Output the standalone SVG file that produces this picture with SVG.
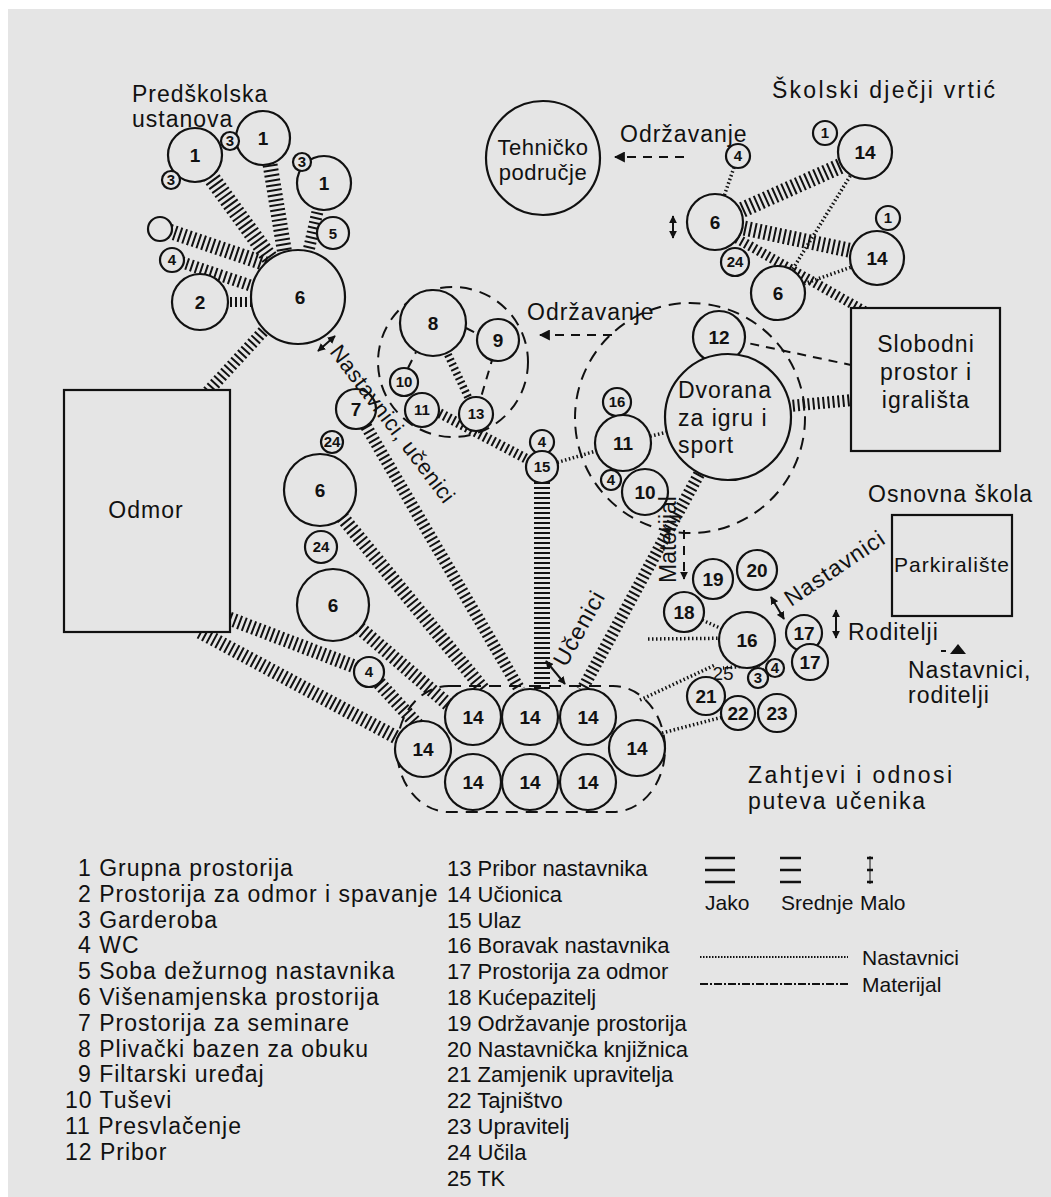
<svg xmlns="http://www.w3.org/2000/svg" width="1051" height="1197" viewBox="0 0 1051 1197">
<style>
.bg{fill:#e5e5e5}
.c{fill:#e5e5e5;stroke:#111;stroke-width:2.2}
.box{fill:#e5e5e5;stroke:#111;stroke-width:2.2}
text{font-family:"Liberation Sans",Arial,Helvetica,sans-serif;fill:#111}
.n{font-size:19px;font-weight:bold;text-anchor:middle}
.s{font-size:15px;font-weight:bold;text-anchor:middle}
.l{font-size:23px;letter-spacing:1px}
.r{font-size:22px}
.lc{font-size:22px;letter-spacing:0.5px;text-anchor:middle}
.h{fill:none;stroke:#111;stroke-dasharray:2 3}
.d{fill:none;stroke:#111;stroke-width:3.5;stroke-dasharray:1.5 2.5}
.m{fill:none;stroke:#111;stroke-width:2;stroke-dasharray:9 7}
.dc{fill:none;stroke:#111;stroke-width:2;stroke-dasharray:12 8}
.ar{fill:none;stroke:#111;stroke-width:2}
.lg{stroke:#111;stroke-width:2.5}
</style>
<defs>
<marker id="ah" viewBox="0 0 10 10" refX="9" refY="5" markerWidth="11" markerHeight="11" markerUnits="userSpaceOnUse" orient="auto-start-reverse"><path d="M0,0 L10,5 L0,10 z" fill="#111"/></marker>
<marker id="as" viewBox="0 0 10 10" refX="9" refY="5" markerWidth="8" markerHeight="8" markerUnits="userSpaceOnUse" orient="auto-start-reverse"><path d="M0,0 L10,5 L0,10 z" fill="#111"/></marker>
</defs>
<rect width="1051" height="1197" fill="#fff"/>
<rect class="bg" x="8" y="9" width="1043" height="1188"/>

<g id="connectors">
<!-- Predskolska -->
<line class="h" x1="195" y1="155" x2="298" y2="297" stroke-width="17"/>
<line class="h" x1="266" y1="140" x2="292" y2="297" stroke-width="15"/>
<line class="h" x1="324" y1="183" x2="298" y2="297" stroke-width="12"/>
<line class="h" x1="160" y1="228" x2="266" y2="264" stroke-width="15"/>
<line class="h" x1="172" y1="259" x2="258" y2="288" stroke-width="12"/>
<line class="h" x1="200" y1="302" x2="298" y2="302" stroke-width="10"/>
<line class="h" x1="270" y1="324" x2="200" y2="400" stroke-width="12"/>
<!-- left column to classrooms -->
<line class="h" x1="220" y1="615" x2="369" y2="672" stroke-width="14"/>
<line class="h" x1="369" y1="672" x2="425" y2="733" stroke-width="14"/>
<line class="h" x1="200" y1="632" x2="405" y2="742" stroke-width="14"/>
<line class="h" x1="333" y1="605" x2="450" y2="706" stroke-width="14"/>
<line class="h" x1="320" y1="490" x2="484" y2="690" stroke-width="14"/>
<line class="h" x1="356" y1="409" x2="520" y2="690" stroke-width="12"/>
<line class="h" x1="542" y1="467" x2="542" y2="690" stroke-width="16"/>
<line class="h" x1="730" y1="417" x2="582" y2="690" stroke-width="12"/>
<!-- pool -->
<line class="h" x1="422" y1="404" x2="542" y2="467" stroke-width="10"/>
<line class="h" x1="433" y1="323" x2="476" y2="414" stroke-width="8"/>
<line class="m" x1="466" y1="328" x2="478" y2="334"/>
<line class="m" x1="498" y1="340" x2="476" y2="414"/>
<line class="m" x1="408" y1="368" x2="416" y2="352"/>
<!-- dvorana -->
<line class="d" x1="542" y1="467" x2="623" y2="443"/>
<line class="d" x1="623" y1="443" x2="728" y2="417"/>
<line class="h" x1="728" y1="412" x2="852" y2="400" stroke-width="12"/>
<line class="m" x1="719" y1="337" x2="851" y2="365"/>
<!-- skolski djecji vrtic -->
<line class="h" x1="715" y1="222" x2="865" y2="155" stroke-width="16"/>
<line class="h" x1="715" y1="222" x2="877" y2="256" stroke-width="15"/>
<line class="h" x1="715" y1="226" x2="866" y2="312" stroke-width="10"/>
<line class="d" x1="738" y1="156" x2="715" y2="222"/>
<line class="d" x1="865" y1="152" x2="778" y2="293"/>
<line class="d" x1="877" y1="258" x2="778" y2="293"/>
<!-- teachers paths right -->
<line class="d" x1="640" y1="700" x2="715" y2="665"/>
<line class="d" x1="662" y1="733" x2="738" y2="713"/>
<line class="d" x1="648" y1="639" x2="747" y2="638"/>
<line class="d" x1="684" y1="612" x2="747" y2="640"/>
<line class="d" x1="760" y1="665" x2="723" y2="668"/>
<!-- maintenance arrows -->
<line class="m" x1="684" y1="157" x2="615" y2="157" marker-end="url(#ah)"/>
<path class="m" d="M612,335 L540,335" marker-end="url(#ah)"/>
<line class="m" x1="684" y1="530" x2="684" y2="579" marker-end="url(#as)"/>
<!-- double arrows -->
<line class="ar" x1="318" y1="351" x2="335" y2="336" marker-start="url(#as)" marker-end="url(#as)"/>
<line class="ar" x1="673" y1="216" x2="673" y2="238" marker-start="url(#as)" marker-end="url(#as)"/>
<line class="ar" x1="546" y1="661" x2="565" y2="684" marker-start="url(#as)" marker-end="url(#as)"/>
<line class="ar" x1="771" y1="597" x2="784" y2="619" marker-start="url(#as)" marker-end="url(#as)"/>
<line class="ar" x1="836" y1="610" x2="836" y2="638" marker-start="url(#as)" marker-end="url(#as)"/>
<path d="M950,654 L958,644 L966,654 Z" fill="#111"/>
<line class="ar" x1="941" y1="651" x2="946" y2="651"/>
</g>

<!-- cluster outlines -->
<g id="pool-area"><circle class="dc" cx="453" cy="362" r="75"/></g>
<g id="hall-area"><circle class="dc" cx="690" cy="418" r="115"/></g>
<g id="classroom-area"><rect class="dc" x="397" y="686" width="268" height="126" rx="52" ry="63"/></g>

<!-- Predskolska ustanova -->
<g id="lbl-pre"><text class="l" x="132" y="102">Predškolska</text><text class="l" x="132" y="127">ustanova</text></g>
<g id="n-p1a"><circle class="c" cx="195" cy="155" r="27"/><text class="n" x="195" y="162">1</text></g>
<g id="n-p1b"><circle class="c" cx="263" cy="138" r="27"/><text class="n" x="263" y="145">1</text></g>
<g id="n-p1c"><circle class="c" cx="324" cy="183" r="27"/><text class="n" x="324" y="190">1</text></g>
<g id="n-p3a"><circle class="c" cx="230" cy="141" r="9"/><text class="s" x="230" y="146">3</text></g>
<g id="n-p3b"><circle class="c" cx="171" cy="180" r="9"/><text class="s" x="171" y="185">3</text></g>
<g id="n-p3c"><circle class="c" cx="302" cy="162" r="9"/><text class="s" x="302" y="167">3</text></g>
<g id="n-p5"><circle class="c" cx="333" cy="233" r="16"/><text class="s" x="333" y="239">5</text></g>
<g id="n-popen"><circle class="c" cx="160" cy="229" r="12"/></g>
<g id="n-p4"><circle class="c" cx="172" cy="260" r="12"/><text class="s" x="172" y="265">4</text></g>
<g id="n-p2"><circle class="c" cx="200" cy="302" r="28"/><text class="n" x="200" y="309">2</text></g>
<g id="n-p6"><circle class="c" cx="298" cy="297" r="47"/><text class="n" x="300" y="304">6</text></g>

<!-- Odmor -->
<g id="n-odmor"><rect class="box" x="64" y="390" width="166" height="242"/><text class="l" x="146" y="518" text-anchor="middle">Odmor</text></g>

<!-- Tehnicko -->
<g id="n-teh"><circle class="c" cx="543" cy="158" r="57"/><text class="lc" x="543" y="155">Tehničko</text><text class="lc" x="543" y="180">područje</text></g>
<g id="lbl-odr1"><text class="l" x="620" y="142">Održavanje</text></g>
<g id="lbl-odr2"><text class="l" x="527" y="320">Održavanje</text></g>

<!-- Skolski djecji vrtic -->
<g id="lbl-sdv"><text class="l" x="772" y="98" textLength="224" lengthAdjust="spacing">Školski dječji vrtić</text></g>
<g id="n-s1a"><circle class="c" cx="825" cy="133" r="12"/><text class="s" x="825" y="138">1</text></g>
<g id="n-s14a"><circle class="c" cx="865" cy="152" r="27"/><text class="n" x="865" y="159">14</text></g>
<g id="n-s4"><circle class="c" cx="738" cy="156" r="12"/><text class="s" x="738" y="161">4</text></g>
<g id="n-s6a"><circle class="c" cx="715" cy="222" r="28"/><text class="n" x="715" y="229">6</text></g>
<g id="n-s1b"><circle class="c" cx="888" cy="218" r="12"/><text class="s" x="888" y="223">1</text></g>
<g id="n-s14b"><circle class="c" cx="877" cy="258" r="27"/><text class="n" x="877" y="265">14</text></g>
<g id="n-s24"><circle class="c" cx="735" cy="262" r="14"/><text class="s" x="735" y="267">24</text></g>
<g id="n-s6b"><circle class="c" cx="778" cy="293" r="27"/><text class="n" x="778" y="300">6</text></g>

<!-- Slobodni prostor -->
<g id="n-slob"><rect class="box" x="851" y="308" width="149" height="143"/><text class="l" x="926" y="352" text-anchor="middle">Slobodni</text><text class="l" x="926" y="380" text-anchor="middle">prostor i</text><text class="l" x="926" y="408" text-anchor="middle">igrališta</text></g>

<!-- pool cluster -->
<g id="n-8"><circle class="c" cx="433" cy="323" r="33"/><text class="n" x="433" y="330">8</text></g>
<g id="n-9"><circle class="c" cx="498" cy="340" r="21"/><text class="n" x="498" y="347">9</text></g>
<g id="n-10a"><circle class="c" cx="404" cy="382" r="14"/><text class="s" x="404" y="387">10</text></g>
<g id="n-11a"><circle class="c" cx="422" cy="410" r="17"/><text class="s" x="422" y="415">11</text></g>
<g id="n-13"><circle class="c" cx="476" cy="414" r="17"/><text class="s" x="476" y="419">13</text></g>

<!-- entrance -->
<g id="n-e4"><circle class="c" cx="542" cy="442" r="12"/><text class="s" x="542" y="447">4</text></g>
<g id="n-15"><circle class="c" cx="542" cy="467" r="16"/><text class="s" x="542" y="472">15</text></g>

<!-- hall cluster -->
<g id="n-12"><circle class="c" cx="719" cy="337" r="26"/><text class="n" x="719" y="344">12</text></g>
<g id="n-dvo"><circle class="c" cx="728" cy="417" r="63"/><text class="l" x="678" y="398">Dvorana</text><text class="l" x="678" y="426">za igru i</text><text class="l" x="678" y="453">sport</text></g>
<g id="n-d16"><circle class="c" cx="617" cy="402" r="14"/><text class="s" x="617" y="407">16</text></g>
<g id="n-d11"><circle class="c" cx="623" cy="443" r="28"/><text class="n" x="623" y="450">11</text></g>
<g id="n-d4"><circle class="c" cx="611" cy="480" r="10"/><text class="s" x="611" y="485">4</text></g>
<g id="n-d10"><circle class="c" cx="645" cy="492" r="23"/><text class="n" x="645" y="499">10</text></g>

<!-- left column -->
<g id="n-7"><circle class="c" cx="356" cy="409" r="20"/><text class="n" x="356" y="416">7</text></g>
<g id="n-l24a"><circle class="c" cx="332" cy="442" r="11"/><text class="s" x="332" y="447">24</text></g>
<g id="n-l6a"><circle class="c" cx="320" cy="490" r="36"/><text class="n" x="320" y="497">6</text></g>
<g id="n-l24b"><circle class="c" cx="321" cy="547" r="16"/><text class="s" x="321" y="552">24</text></g>
<g id="n-l6b"><circle class="c" cx="333" cy="605" r="36"/><text class="n" x="333" y="612">6</text></g>
<g id="n-l4"><circle class="c" cx="369" cy="672" r="15"/><text class="s" x="369" y="677">4</text></g>

<!-- classrooms -->
<g id="n-c1"><circle class="c" cx="473" cy="717" r="28"/><text class="n" x="473" y="724">14</text></g>
<g id="n-c2"><circle class="c" cx="530" cy="717" r="28"/><text class="n" x="530" y="724">14</text></g>
<g id="n-c3"><circle class="c" cx="588" cy="717" r="28"/><text class="n" x="588" y="724">14</text></g>
<g id="n-c4"><circle class="c" cx="423" cy="749" r="28"/><text class="n" x="423" y="756">14</text></g>
<g id="n-c5"><circle class="c" cx="637" cy="748" r="28"/><text class="n" x="637" y="755">14</text></g>
<g id="n-c6"><circle class="c" cx="473" cy="782" r="28"/><text class="n" x="473" y="789">14</text></g>
<g id="n-c7"><circle class="c" cx="530" cy="782" r="28"/><text class="n" x="530" y="789">14</text></g>
<g id="n-c8"><circle class="c" cx="588" cy="782" r="28"/><text class="n" x="588" y="789">14</text></g>

<!-- path labels -->
<g id="lbl-nu"><text class="l" style="font-size:22px;letter-spacing:0.5px" transform="translate(329,352) rotate(53)">Nastavnici, učenici</text></g>
<g id="lbl-uc"><text class="l" transform="translate(566,668) rotate(-61)">Učenici</text></g>
<g id="lbl-mat"><text class="r" style="font-size:23px" transform="translate(676,583) rotate(-90)">Materijal</text></g>

<!-- Osnovna skola -->
<g id="lbl-os"><text class="l" x="868" y="502">Osnovna škola</text></g>
<g id="n-park"><rect class="box" x="892" y="515" width="120" height="101"/><text class="l" style="font-size:21px" x="952" y="572" text-anchor="middle">Parkiralište</text></g>
<g id="lbl-nas"><text class="l" transform="translate(791,607) rotate(-34)">Nastavnici</text></g>
<g id="lbl-rod"><text class="l" x="848" y="640">Roditelji</text></g>
<g id="lbl-nr"><text class="l" x="908" y="678">Nastavnici,</text><text class="l" x="908" y="703">roditelji</text></g>
<g id="n-19"><circle class="c" cx="713" cy="579" r="20"/><text class="n" x="713" y="586">19</text></g>
<g id="n-20"><circle class="c" cx="757" cy="570" r="20"/><text class="n" x="757" y="577">20</text></g>
<g id="n-18"><circle class="c" cx="684" cy="612" r="20"/><text class="n" x="684" y="619">18</text></g>
<g id="n-16"><circle class="c" cx="747" cy="640" r="28"/><text class="n" x="747" y="647">16</text></g>
<g id="n-17a"><circle class="c" cx="804" cy="633" r="18"/><text class="n" x="804" y="640">17</text></g>
<g id="n-17b"><circle class="c" cx="810" cy="662" r="18"/><text class="n" x="810" y="669">17</text></g>
<g id="n-r4"><circle class="c" cx="775" cy="668" r="9"/><text class="s" x="775" y="673">4</text></g>
<g id="n-r3"><circle class="c" cx="758" cy="678" r="10"/><text class="s" x="758" y="683">3</text></g>
<g id="n-25"><text class="n" style="font-weight:normal" x="723" y="680">25</text></g>
<g id="n-21"><circle class="c" cx="706" cy="696" r="19"/><text class="n" x="706" y="703">21</text></g>
<g id="n-22"><circle class="c" cx="738" cy="713" r="17"/><text class="n" x="738" y="720">22</text></g>
<g id="n-23"><circle class="c" cx="777" cy="713" r="19"/><text class="n" x="777" y="720">23</text></g>

<g id="lbl-zahtjevi"><text class="l" x="748" y="783" textLength="205" lengthAdjust="spacing">Zahtjevi i odnosi</text><text class="l" x="748" y="809" textLength="178" lengthAdjust="spacing">puteva učenika</text></g>

<!-- legend -->
<g id="legend-list">
<text class="l" x="78" y="876">1 Grupna prostorija</text>
<text class="l" x="78" y="902">2 Prostorija za odmor i spavanje</text>
<text class="l" x="78" y="928">3 Garderoba</text>
<text class="l" x="78" y="953">4 WC</text>
<text class="l" x="78" y="979">5 Soba dežurnog nastavnika</text>
<text class="l" x="78" y="1005">6 Višenamjenska prostorija</text>
<text class="l" x="78" y="1031">7 Prostorija za seminare</text>
<text class="l" x="78" y="1057">8 Plivački bazen za obuku</text>
<text class="l" x="78" y="1082">9 Filtarski uređaj</text>
<text class="l" x="65" y="1108">10 Tuševi</text>
<text class="l" x="65" y="1134">11 Presvlačenje</text>
<text class="l" x="65" y="1160">12 Pribor</text>
<text class="r" x="447" y="876">13 Pribor nastavnika</text>
<text class="r" x="447" y="902">14 Učionica</text>
<text class="r" x="447" y="928">15 Ulaz</text>
<text class="r" x="447" y="953">16 Boravak nastavnika</text>
<text class="r" x="447" y="979">17 Prostorija za odmor</text>
<text class="r" x="447" y="1005">18 Kućepazitelj</text>
<text class="r" x="447" y="1031">19 Održavanje prostorija</text>
<text class="r" x="447" y="1057">20 Nastavnička knjižnica</text>
<text class="r" x="447" y="1082">21 Zamjenik upravitelja</text>
<text class="r" x="447" y="1108">22 Tajništvo</text>
<text class="r" x="447" y="1134">23 Upravitelj</text>
<text class="r" x="447" y="1160">24 Učila</text>
<text class="r" x="447" y="1186">25 TK</text>
</g>
<g id="legend-key">
<line class="lg" x1="705" y1="858" x2="735" y2="858"/>
<line class="lg" x1="705" y1="870" x2="735" y2="870"/>
<line class="lg" x1="705" y1="882" x2="735" y2="882"/>
<line class="lg" x1="780" y1="858" x2="801" y2="858"/>
<line class="lg" x1="780" y1="870" x2="801" y2="870"/>
<line class="lg" x1="780" y1="882" x2="801" y2="882"/>
<line class="lg" x1="867" y1="858" x2="873" y2="858"/>
<line class="lg" x1="867" y1="870" x2="873" y2="870"/>
<line class="lg" x1="867" y1="882" x2="873" y2="882"/>
<line stroke="#111" stroke-width="1" x1="870" y1="856" x2="870" y2="884"/>
<text class="r" style="font-size:21px" x="705" y="910">Jako</text>
<text class="r" style="font-size:21px" x="781" y="910">Srednje</text>
<text class="r" style="font-size:21px" x="860" y="910">Malo</text>
<line x1="700" y1="957" x2="848" y2="957" stroke="#111" stroke-width="2" stroke-dasharray="1.5 1.5"/>
<text class="r" style="font-size:21px" x="862" y="965">Nastavnici</text>
<line x1="700" y1="984" x2="848" y2="984" stroke="#111" stroke-width="2" stroke-dasharray="8 2 2 2"/>
<text class="r" style="font-size:21px" x="862" y="992">Materijal</text>
</g>
</svg>
